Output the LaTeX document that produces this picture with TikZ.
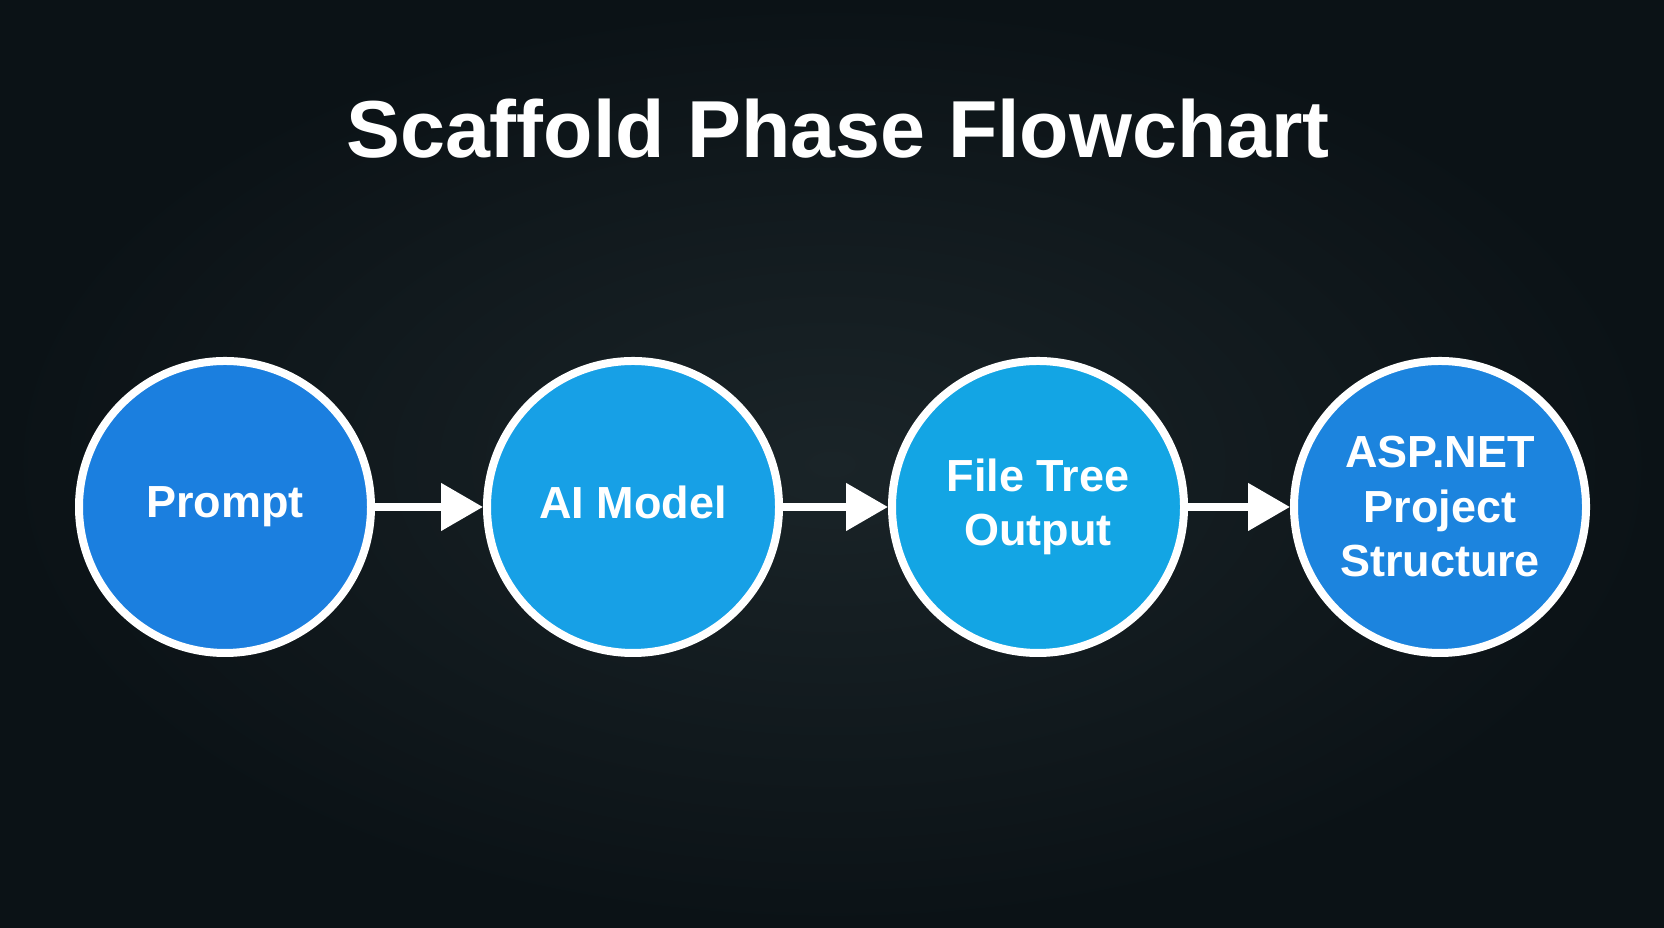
\documentclass[tikz,border=0pt]{standalone}
\usepackage{fontspec}
\setmainfont{Liberation Sans}
\usetikzlibrary{arrows.meta}
\definecolor{bgdark}{HTML}{0B1216}
\definecolor{bgmid}{HTML}{1A2428}
\definecolor{cA}{HTML}{1B7FDF}
\definecolor{cB}{HTML}{17A0E6}
\definecolor{cC}{HTML}{13A5E4}
\definecolor{cD}{HTML}{1C84DE}
\tikzset{
  stage/.style={circle, draw=white, line width=0.08cm, minimum size=2.92cm, inner sep=0pt,
    text=white, font=\bfseries\fontsize{12.8}{15.5}\selectfont, align=center},
  flow/.style={draw=white, line width=0.08cm, -{Triangle[length=0.42cm,width=0.46cm]}}
}
\begin{document}
\begin{tikzpicture}[x=1cm,y=1cm]
\shade[inner color=bgmid, outer color=bgdark] (0,0) rectangle (16.64,9.28);
\useasboundingbox (0,0) rectangle (16.64,9.28);
\node[text=white, font=\bfseries\fontsize{23}{28}\selectfont] (title) at (8.38,7.99) {Scaffold Phase Flowchart};
\node[stage, fill=cA] (p) at (2.25,4.21) {\vphantom{Ap}Prompt};
\node[stage, fill=cB] (m) at (6.33,4.21) {\vphantom{Ap}AI Model};
\node[stage, fill=cC] (f) at (10.38,4.21) {File Tree\\Output};
\node[stage, fill=cD] (a) at (14.40,4.21) {ASP.NET\\Project\\Structure};
\draw[flow] (p) -- (m);
\draw[flow] (m) -- (f);
\draw[flow] (f) -- (a);
\end{tikzpicture}
\end{document}
